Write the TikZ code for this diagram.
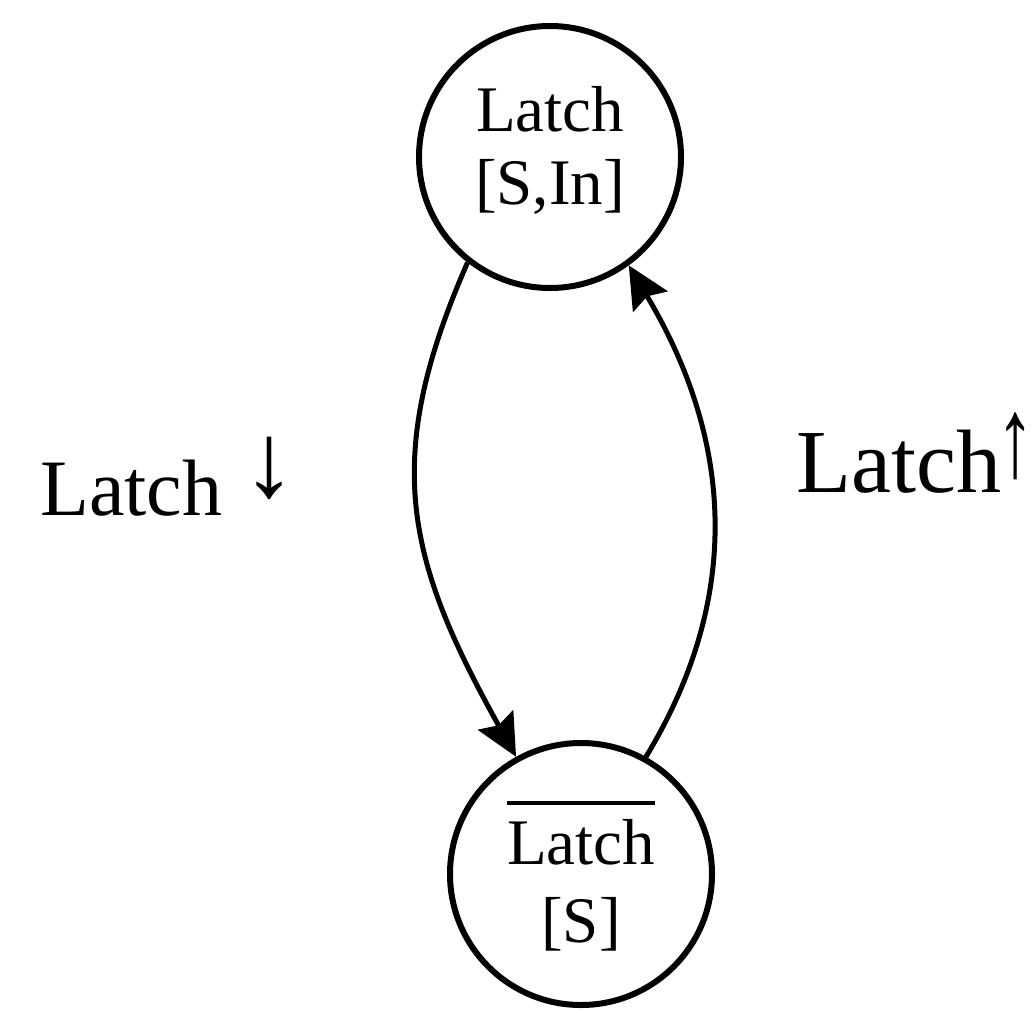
\documentclass[tikz,border=0pt]{standalone}
\usepackage{fontspec}
\usepackage{graphicx}
\setmainfont{Liberation Serif}
\usetikzlibrary{arrows.meta}
\newcommand\ovlbar[1]{\vbox{\hrule height 4.5pt\kern 14pt\hbox{#1}}}
\begin{document}
\begin{tikzpicture}[x=1pt,y=-1pt,
  state/.style={circle,draw,line width=6pt,minimum size=262pt,inner sep=0pt},
  statetext/.style={inner sep=0pt,align=center},
  trans/.style={line width=5pt,-{Stealth[length=42pt,width=40pt,inset=6pt]}},
  lbl/.style={inner sep=0pt,anchor=base west}]
\useasboundingbox (0,0) rectangle (1032,1012);
\node[state] (s1) at (550,157) {};
\node[statetext,font=\fontsize{65pt}{73pt}\selectfont] (s1txt) at (550,150) {Latch\\{[S,In]}};
\node[state] (s0) at (581,874) {};
\node[statetext,font=\fontsize{65pt}{78pt}\selectfont] (s0txt) at (581,876) {\ovlbar{Latch}\\{[S]}};
\draw[trans] (s1.232) .. controls (381,460) and (406,559) .. (s0.119);
\draw[trans] (s0.61) .. controls (761,567) and (712,405) .. (s1.306);
\node[lbl,font=\fontsize{80pt}{80pt}\selectfont] (l1) at (40,515) {Latch \raisebox{18.5pt}{\scalebox{1.35}[1.32]{↓}}};
\node[lbl,font=\fontsize{90pt}{90pt}\selectfont] (l2) at (796,492) {Latch\kern-5pt\rlap{\raisebox{15.5pt}{\scalebox{0.85}[1.26]{↑}}}};
\end{tikzpicture}
\end{document}
